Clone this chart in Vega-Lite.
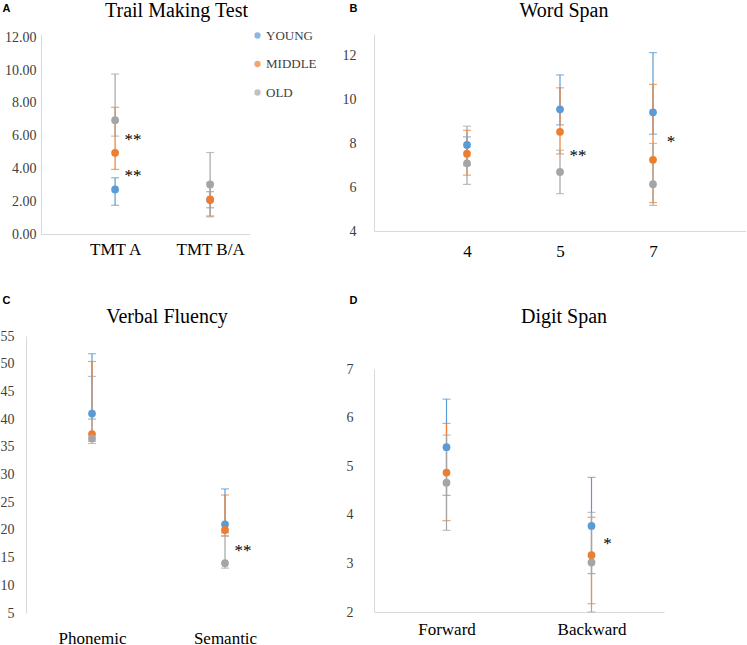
{
  "$schema": "https://vega.github.io/schema/vega-lite/v6.json",
  "background": "white",
  "padding": {"left": 0, "top": 1, "right": 0, "bottom": 0},
  "config": {
    "view": {"stroke": null},
    "font": "Liberation Serif",
    "axis": {"grid": false, "ticks": false, "labelOverlap": false, "labelSeparation": -100, "domainColor": "#d9d9d9", "labelColor": "#404040", "labelFont": "Liberation Serif",
      "titleFont": "Liberation Sans", "titleFontWeight": "bold", "titleFontSize": 11, "titleColor": "#000000", "titleAngle": 0, "titleAlign": "left", "titleBaseline": "top"},
    "axisQuantitative": {"labelOverlap": false, "labelSeparation": -100},
    "title": {"font": "Liberation Serif", "fontSize": 20, "fontWeight": "normal", "color": "#000000", "anchor": "middle", "offset": -4},
    "legend": {"orient": "none", "legendX": 210, "legendY": -5, "title": null, "symbolType": "circle", "symbolSize": 40, "symbolStrokeWidth": 0, "labelFont": "Liberation Serif", "labelFontSize": 13, "labelColor": "#404040", "rowPadding": 14.5, "labelOffset": 2}
  },
  "datasets": {
    "tmt": [
      {"test": "TMT A", "group": "YOUNG", "mean": 2.72, "lo": 1.75, "hi": 3.43},
      {"test": "TMT A", "group": "MIDDLE", "mean": 4.95, "lo": 3.94, "hi": 7.73},
      {"test": "TMT A", "group": "OLD", "mean": 6.94, "lo": 5.97, "hi": 9.76},
      {"test": "TMT B/A", "group": "YOUNG", "mean": 2.08, "lo": 1.6, "hi": 2.58},
      {"test": "TMT B/A", "group": "MIDDLE", "mean": 2.11, "lo": 1.1, "hi": 3.1},
      {"test": "TMT B/A", "group": "OLD", "mean": 3.02, "lo": 1.05, "hi": 4.97}
    ],
    "tmt_sig": [
      {"test": "TMT A", "v": 5.9, "label": "**"},
      {"test": "TMT A", "v": 3.72, "label": "**"}
    ],
    "ws": [
      {"span": "4", "group": "YOUNG", "mean": 7.93, "lo": 7.0, "hi": 8.3},
      {"span": "4", "group": "MIDDLE", "mean": 7.53, "lo": 6.55, "hi": 8.6},
      {"span": "4", "group": "OLD", "mean": 7.09, "lo": 6.13, "hi": 8.79},
      {"span": "5", "group": "YOUNG", "mean": 9.56, "lo": 8.85, "hi": 11.13},
      {"span": "5", "group": "MIDDLE", "mean": 8.53, "lo": 7.52, "hi": 10.54},
      {"span": "5", "group": "OLD", "mean": 6.7, "lo": 5.71, "hi": 7.69},
      {"span": "7", "group": "YOUNG", "mean": 9.42, "lo": 8.42, "hi": 12.15},
      {"span": "7", "group": "MIDDLE", "mean": 7.25, "lo": 5.3, "hi": 10.7},
      {"span": "7", "group": "OLD", "mean": 6.14, "lo": 5.17, "hi": 8.0}
    ],
    "ws_sig": [
      {"span": "5", "v": 7.55, "label": "**"},
      {"span": "7", "v": 8.2, "label": "*"}
    ],
    "vf": [
      {"test": "Phonemic", "group": "YOUNG", "mean": 41.0, "lo": 40.0, "hi": 51.8},
      {"test": "Phonemic", "group": "MIDDLE", "mean": 37.3, "lo": 36.0, "hi": 50.4},
      {"test": "Phonemic", "group": "OLD", "mean": 36.5, "lo": 35.6, "hi": 47.7},
      {"test": "Semantic", "group": "YOUNG", "mean": 21.0, "lo": 19.5, "hi": 27.4},
      {"test": "Semantic", "group": "MIDDLE", "mean": 20.0, "lo": 18.9, "hi": 26.3},
      {"test": "Semantic", "group": "OLD", "mean": 14.0, "lo": 13.1, "hi": 18.9}
    ],
    "vf_sig": [
      {"test": "Semantic", "v": 16.7, "label": "**"}
    ],
    "ds": [
      {"test": "Forward", "group": "YOUNG", "mean": 5.39, "lo": 4.4, "hi": 6.38},
      {"test": "Forward", "group": "MIDDLE", "mean": 4.87, "lo": 3.88, "hi": 5.88},
      {"test": "Forward", "group": "OLD", "mean": 4.66, "lo": 3.68, "hi": 5.64},
      {"test": "Backward", "group": "YOUNG", "mean": 3.77, "lo": 2.79, "hi": 4.77},
      {"test": "Backward", "group": "MIDDLE", "mean": 3.17, "lo": 2.17, "hi": 3.95},
      {"test": "Backward", "group": "OLD", "mean": 3.02, "lo": 2.0, "hi": 4.05}
    ],
    "ds_sig": [
      {"test": "Backward", "v": 3.46, "label": "*"}
    ]
  },
  "spacing": 25,
  "resolve": {"scale": {"color": "independent"}, "legend": {"color": "independent"}},
  "hconcat": [
    {
      "bounds": "flush",
      "spacing": 102,
      "resolve": {"scale": {"color": "independent"}, "legend": {"color": "independent"}},
      "vconcat": [
        {
          "width": 209, "height": 200,
          "title": {"text": "Trail Making Test", "dx": 31, "dy": 15},
          "data": {"name": "tmt"},
          "layer": [
            {
              "mark": {"type": "errorbar", "ticks": true, "size": 8, "thickness": 1.2},
              "encoding": {
                "x": {"field": "test", "type": "nominal", "scale": {"type": "point", "domain": ["TMT A", "TMT B/A"], "padding": 0.6, "align": 0.65},
                  "axis": {"title": null, "labelFontSize": 17, "labelPadding": 7, "labelAngle": 0, "labelColor": "#000000"}},
                "y": {"field": "lo", "type": "quantitative", "scale": {"domain": [0, 12.2], "nice": false},
                  "axis": {"title": "A", "titleX": -39, "titleY": -32, "values": [0, 2, 4, 6, 8, 10, 12], "labelOverlap": false, "labelSeparation": -100, "format": ".2f", "labelFontSize": 14, "labelPadding": 5}},
                "y2": {"field": "hi"},
                "color": {"field": "group", "type": "nominal", "scale": {"domain": ["YOUNG", "MIDDLE", "OLD"], "range": ["#5B9BD5", "#ED7D31", "#A5A5A5"]}}
              }
            },
            {
              "mark": {"type": "circle", "size": 60, "opacity": 1},
              "encoding": {
                "x": {"field": "test", "type": "nominal"},
                "y": {"field": "mean", "type": "quantitative",
                  "axis": {"title": "A", "titleX": -39, "titleY": -32, "values": [0, 2, 4, 6, 8, 10, 12], "labelOverlap": false, "labelSeparation": -100, "format": ".2f", "labelFontSize": 14, "labelPadding": 5}},
                "color": {"field": "group", "type": "nominal"}
              }
            },
            {
              "data": {"name": "tmt_sig"},
              "mark": {"type": "text", "font": "Liberation Serif", "fontSize": 17, "dx": 18, "dy": 8, "baseline": "alphabetic", "color": "#000000"},
              "encoding": {
                "x": {"field": "test", "type": "nominal"},
                "y": {"field": "v", "type": "quantitative",
                  "axis": {"title": "A", "titleX": -39, "titleY": -32, "values": [0, 2, 4, 6, 8, 10, 12], "labelOverlap": false, "labelSeparation": -100, "format": ".2f", "labelFontSize": 14, "labelPadding": 5}},
                "text": {"field": "label"}
              }
            }
          ]
        },
        {
          "width": 250, "height": 277,
          "title": {"text": "Verbal Fluency", "dx": 1, "dy": 29},
          "data": {"name": "vf"},
          "layer": [
            {
              "mark": {"type": "errorbar", "ticks": true, "size": 8, "thickness": 1.2},
              "encoding": {
                "x": {"field": "test", "type": "nominal", "scale": {"type": "point", "domain": ["Phonemic", "Semantic"], "padding": 0.44, "align": 0.436},
                  "axis": {"title": null, "labelFontSize": 17, "labelPadding": 17, "labelAngle": 0, "domain": false, "labelColor": "#000000"}},
                "y": {"field": "lo", "type": "quantitative", "scale": {"domain": [5, 55], "nice": false},
                  "axis": {"title": "C", "titleX": -24, "titleY": -42, "offset": 15, "values": [5, 10, 15, 20, 25, 30, 35, 40, 45, 50, 55], "labelOverlap": false, "labelSeparation": -100, "labelFontSize": 14, "labelPadding": 12}},
                "y2": {"field": "hi"},
                "color": {"field": "group", "type": "nominal", "scale": {"domain": ["YOUNG", "MIDDLE", "OLD"], "range": ["#5B9BD5", "#ED7D31", "#A5A5A5"]}, "legend": null}
              }
            },
            {
              "mark": {"type": "circle", "size": 60, "opacity": 1},
              "encoding": {
                "x": {"field": "test", "type": "nominal"},
                "y": {"field": "mean", "type": "quantitative",
                  "axis": {"title": "C", "titleX": -24, "titleY": -42, "offset": 15, "values": [5, 10, 15, 20, 25, 30, 35, 40, 45, 50, 55], "labelOverlap": false, "labelSeparation": -100, "labelFontSize": 14, "labelPadding": 12}},
                "color": {"field": "group", "type": "nominal", "legend": null}
              }
            },
            {
              "data": {"name": "vf_sig"},
              "mark": {"type": "text", "font": "Liberation Serif", "fontSize": 17, "dx": 18, "dy": 8, "baseline": "alphabetic", "color": "#000000"},
              "encoding": {
                "x": {"field": "test", "type": "nominal"},
                "y": {"field": "v", "type": "quantitative",
                  "axis": {"title": "C", "titleX": -24, "titleY": -42, "offset": 15, "values": [5, 10, 15, 20, 25, 30, 35, 40, 45, 50, 55], "labelOverlap": false, "labelSeparation": -100, "labelFontSize": 14, "labelPadding": 12}},
                "text": {"field": "label"}
              }
            }
          ]
        }
      ]
    },
    {
      "bounds": "flush",
      "spacing": 138,
      "resolve": {"scale": {"color": "independent"}, "legend": {"color": "independent"}},
      "vconcat": [
        {
          "width": 372, "height": 197,
          "title": {"text": "Word Span", "dx": 4, "dy": 15},
          "data": {"name": "ws"},
          "layer": [
            {
              "mark": {"type": "errorbar", "ticks": true, "size": 8, "thickness": 1.2},
              "encoding": {
                "x": {"field": "span", "type": "nominal", "scale": {"type": "point", "domain": ["4", "5", "7"], "padding": 1},
                  "axis": {"title": null, "labelFontSize": 17, "labelPadding": 12, "labelAngle": 0, "labelColor": "#000000"}},
                "y": {"field": "lo", "type": "quantitative", "scale": {"domain": [4, 13], "nice": false},
                  "axis": {"title": "B", "titleX": -25, "titleY": -32, "values": [4, 6, 8, 10, 12], "labelOverlap": false, "labelFontSize": 14, "labelPadding": 18}},
                "y2": {"field": "hi"},
                "color": {"field": "group", "type": "nominal", "scale": {"domain": ["YOUNG", "MIDDLE", "OLD"], "range": ["#5B9BD5", "#ED7D31", "#A5A5A5"]}, "legend": null}
              }
            },
            {
              "mark": {"type": "circle", "size": 60, "opacity": 1},
              "encoding": {
                "x": {"field": "span", "type": "nominal"},
                "y": {"field": "mean", "type": "quantitative"},
                "color": {"field": "group", "type": "nominal", "legend": null}
              }
            },
            {
              "data": {"name": "ws_sig"},
              "mark": {"type": "text", "font": "Liberation Serif", "fontSize": 17, "dx": 18, "dy": 8, "baseline": "alphabetic", "color": "#000000"},
              "encoding": {
                "x": {"field": "span", "type": "nominal"},
                "y": {"field": "v", "type": "quantitative"},
                "text": {"field": "label"}
              }
            }
          ]
        },
        {
          "width": 290, "height": 243,
          "title": {"text": "Digit Span", "dx": 45, "dy": 29},
          "data": {"name": "ds"},
          "layer": [
            {
              "mark": {"type": "errorbar", "ticks": true, "size": 8, "thickness": 1.2},
              "encoding": {
                "x": {"field": "test", "type": "nominal", "scale": {"type": "point", "domain": ["Forward", "Backward"], "padding": 0.5},
                  "axis": {"title": null, "labelFontSize": 17, "labelPadding": 9, "labelAngle": 0, "labelColor": "#000000"}},
                "y": {"field": "lo", "type": "quantitative", "scale": {"domain": [2, 7], "nice": false},
                  "axis": {"title": "D", "titleX": -25, "titleY": -75, "values": [2, 3, 4, 5, 6, 7], "labelOverlap": false, "labelFontSize": 14, "labelPadding": 21}},
                "y2": {"field": "hi"},
                "color": {"field": "group", "type": "nominal", "scale": {"domain": ["YOUNG", "MIDDLE", "OLD"], "range": ["#5B9BD5", "#ED7D31", "#A5A5A5"]}, "legend": null}
              }
            },
            {
              "mark": {"type": "circle", "size": 60, "opacity": 1},
              "encoding": {
                "x": {"field": "test", "type": "nominal"},
                "y": {"field": "mean", "type": "quantitative"},
                "color": {"field": "group", "type": "nominal", "legend": null}
              }
            },
            {
              "data": {"name": "ds_sig"},
              "mark": {"type": "text", "font": "Liberation Serif", "fontSize": 17, "dx": 16, "dy": 8, "baseline": "alphabetic", "color": "#000000"},
              "encoding": {
                "x": {"field": "test", "type": "nominal"},
                "y": {"field": "v", "type": "quantitative"},
                "text": {"field": "label"}
              }
            }
          ]
        }
      ]
    }
  ]
}
